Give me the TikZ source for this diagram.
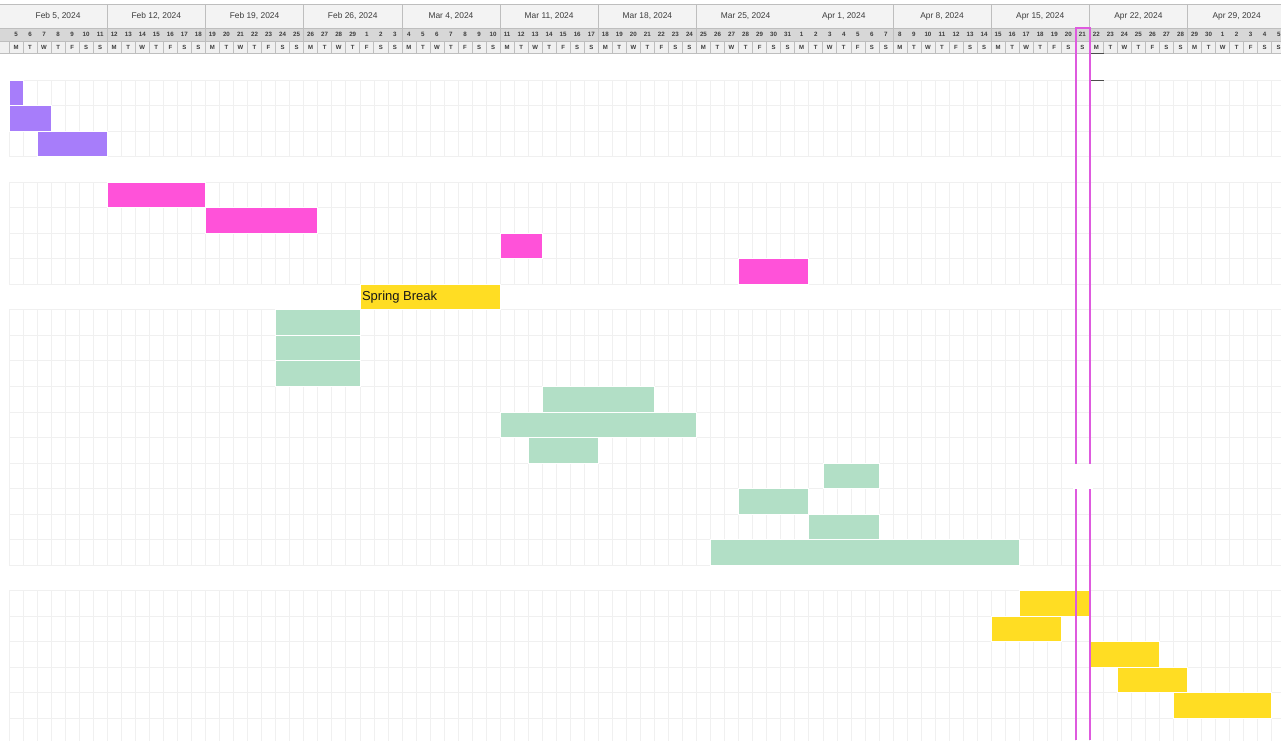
\documentclass[tikz,border=0pt]{standalone}
\usepackage{fontspec}
\setmainfont{Liberation Sans}
\usetikzlibrary{positioning}
\definecolor{purplebar}{RGB}{167, 125, 250}
\definecolor{pinkbar}{RGB}{255, 82, 217}
\definecolor{greenbar}{RGB}{178, 223, 198}
\definecolor{yellowbar}{RGB}{255, 221, 35}
\definecolor{hdrweek}{RGB}{243, 243, 243}
\definecolor{hdrnum}{RGB}{215, 215, 215}
\definecolor{hdrday}{RGB}{240, 240, 240}
\definecolor{hdrrule}{RGB}{190, 190, 190}
\definecolor{hdrtext}{RGB}{60, 60, 60}
\definecolor{gridgray}{RGB}{240, 240, 240}
\definecolor{todaypink}{RGB}{222, 90, 222}

\begin{document}
\begin{tikzpicture}[x=1pt, y=-1pt,
  weektxt/.style={font=\fontsize{8.4}{9}\selectfont, text=hdrtext, inner sep=0pt},
  numtxt/.style={font=\fontsize{6.2}{7}\selectfont\bfseries, text=hdrtext, inner sep=0pt},
  daytxt/.style={font=\fontsize{6}{7}\selectfont\bfseries, text=hdrtext, inner sep=0pt},
  hdrline/.style={draw=hdrrule, line width=0.6pt},
  gridline/.style={draw=gridgray, line width=0.5pt},
  taskbar/.style={draw=white, line width=0.5pt},
  todaymark/.style={fill=todaypink}]
  \useasboundingbox (0,0) rectangle (1281,740);
  \clip (0,0) rectangle (1281,740);
  \fill[white] (0,0) rectangle (1281,740);

  \fill[hdrweek] (0,4) rectangle (1281,28);
  \fill[hdrnum] (0,28) rectangle (1281,41);
  \fill[hdrday] (0,41) rectangle (1281,53);
  \foreach \y in {4,28,41,53} {
    \draw[hdrline] (0,\y) -- (1281,\y);
  }

  \begin{scope}[xshift=9pt, x=14.03pt]
    \foreach \lbl [count=\w from 0] in {{Feb 5, 2024},{Feb 12, 2024},{Feb 19, 2024},{Feb 26, 2024},{Mar 4, 2024},{Mar 11, 2024},{Mar 18, 2024},{Mar 25, 2024},{Apr 1, 2024},{Apr 8, 2024},{Apr 15, 2024},{Apr 22, 2024},{Apr 29, 2024}} {
      \node[weektxt] (wk\w) at (7*\w+3.5,16) {\lbl};
    }
    \foreach \w in {1,2,3,4,5,6,7,9,10,11,12} {
      \draw[hdrline] (7*\w,4) -- (7*\w,53);
    }
    \foreach \w in {0,...,12} {
      \foreach \l [count=\i from 0] in {M,T,W,T,F,S,S} {
        \pgfmathtruncatemacro{\d}{7*\w+\i}
        \pgfmathtruncatemacro{\dn}{\d<25 ? \d+5 : (\d<56 ? \d-24 : (\d<86 ? \d-55 : \d-85))}
        \node[numtxt] (dn\d) at (\d+0.5,34.8) {\dn};
        \node[daytxt] (dl\d) at (\d+0.5,47.2) {\l};
        \draw[hdrline] (\d,41) -- (\d,53);
      }
    }
  \end{scope}

  \begin{scope}[xshift=9pt, yshift=-80pt, x=14.03pt, y=-25.52pt]
    \foreach \a/\b in {0/3,4/8,9/19,20/26} {
      \foreach \d in {0,...,91} {
        \draw[gridline] (\d,\a) -- (\d,\b);
      }
      \foreach \r in {\a,...,\b} {
        \draw[gridline] (0,\r) -- (91,\r);
      }
    }

    \foreach \r/\s/\e in {0/0/1,1/0/3,2/2/7} {
      \filldraw[taskbar, fill=purplebar] (\s,\r) rectangle (\e,\r+1);
    }
    \foreach \r/\s/\e in {4/7/14,5/14/22,6/35/38,7/52/57} {
      \filldraw[taskbar, fill=pinkbar] (\s,\r) rectangle (\e,\r+1);
    }
    \foreach \r/\s/\e in {9/19/25,10/19/25,11/19/25,12/38/46,13/35/49,14/37/42,15/58/62,16/52/57,17/57/62,18/50/72} {
      \filldraw[taskbar, fill=greenbar] (\s,\r) rectangle (\e,\r+1);
    }
    \foreach \r/\s/\e in {8/25/35,20/72/77,21/70/75,22/77/82,23/79/84,24/83/90} {
      \filldraw[taskbar, fill=yellowbar] (\s,\r) rectangle (\e,\r+1);
    }
    \node[anchor=west, inner sep=0pt, font=\fontsize{13}{15}\selectfont, text=black!90] (springlbl) at (25.15,8.5) {Spring Break};
  \end{scope}

  \fill[todaymark] (1074.5,27) rectangle (1090.5,29);
  \fill[todaymark] (1074.5,27) rectangle (1076.5,740);
  \fill[todaymark] (1088.5,27) rectangle (1090.5,740);
  \fill[white] (1073,463.5) rectangle (1093,488.5);
  \draw[black!70, line width=1pt] (1091,53) -- (1104,53);
  \draw[black!70, line width=1pt] (1091,80) -- (1104,80);
\end{tikzpicture}
\end{document}
